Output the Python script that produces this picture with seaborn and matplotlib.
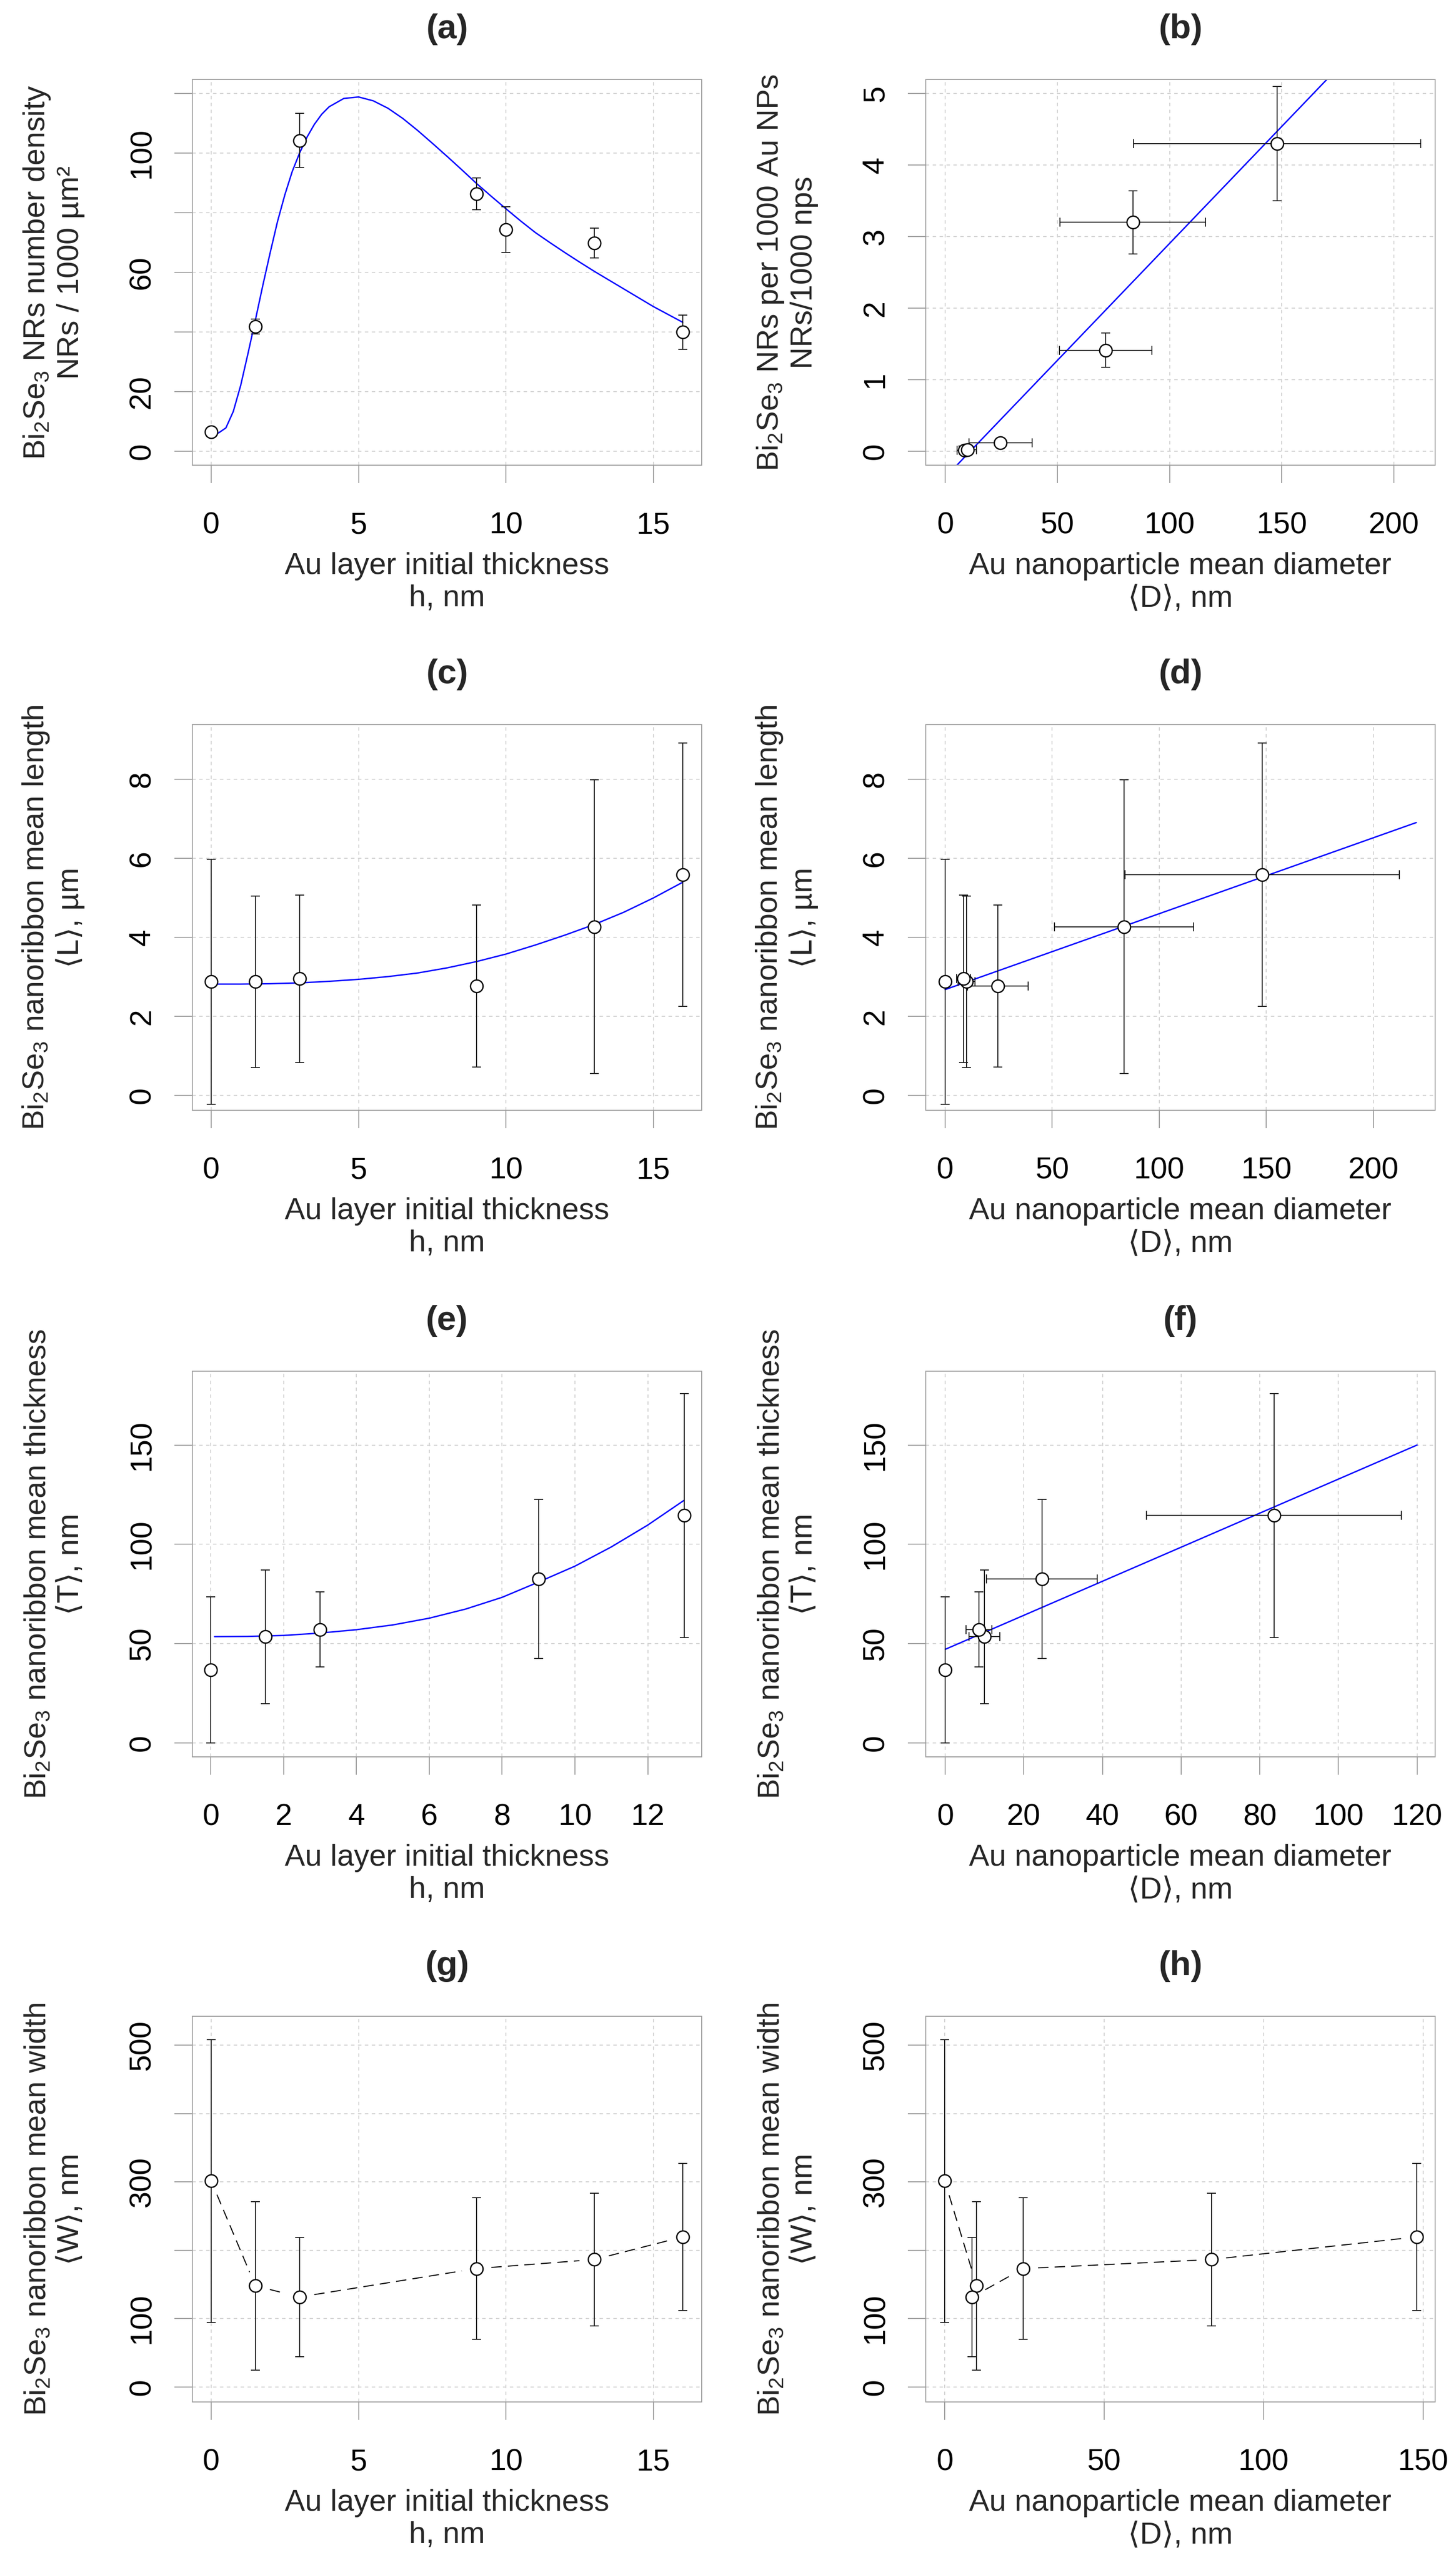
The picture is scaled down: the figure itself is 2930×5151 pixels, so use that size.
import matplotlib
matplotlib.use("Agg")
import matplotlib.pyplot as plt
import numpy as np
import seaborn as sns

# ---------------------------------------------------------------- data
# (a) number density vs h
h_dens = [0, 1.5, 3, 9, 10, 13, 16]
dens = [6.5, 41.8, 104.2, 86.3, 74.3, 69.8, 39.9]
dens_err = [1.0, 2.5, 9.1, 5.4, 7.7, 5.0, 5.7]
fit_dens_h = [0.1, 0.25, 0.5, 0.75, 1.0, 1.25, 1.5, 1.75, 2.0, 2.25, 2.5, 2.75,
              3.0, 3.25, 3.5, 3.75, 4.0, 4.5, 5.0, 5.5, 6.0, 6.5, 7.0, 7.5,
              8.0, 8.5, 9.0, 9.5, 10.0, 10.5, 11.0, 11.5, 12.0, 12.5, 13.0,
              14.0, 15.0, 16.0]
fit_dens = [5.9, 6.1, 7.8, 13.3, 22.0, 32.8, 44.0, 55.5, 66.5, 77.0, 86.0, 93.8,
            100.0, 105.3, 109.6, 113.0, 115.5, 118.3, 118.8, 117.5, 115.0, 111.6,
            107.6, 103.3, 98.9, 94.4, 89.8, 85.5, 81.3, 77.2, 73.3, 69.9, 66.6,
            63.4, 60.3, 54.4, 48.5, 43.2]

# (b) NRs per 1000 Au NPs vs D
D_nps = [8.6, 10.0, 24.6, 71.6, 83.6, 148.0]
D_nps_err = [3.3, 3.9, 14.1, 20.6, 32.4, 64.0]
nr_per_np = [0.01, 0.02, 0.12, 1.41, 3.20, 4.30]
nr_per_np_err = [0.02, 0.03, 0.06, 0.24, 0.44, 0.80]
fit_b_D = [5.2, 170.1]
fit_b_y = [-0.196, 5.196]

# (c),(d),(g),(h) geometry vs h / D
h_geo = [0, 1.5, 3, 9, 13, 16]
D_geo = [0, 10.0, 8.6, 24.6, 83.6, 148.0]
D_geo_err = [0, 3.9, 3.3, 14.1, 32.4, 64.0]
L_mean = [2.88, 2.88, 2.955, 2.77, 4.27, 5.59]
L_err = [3.10, 2.17, 2.12, 2.05, 3.72, 3.34]
fit_L_h = [0.1, 1, 2, 3, 4, 5, 6, 7, 8, 9, 10, 11, 12, 13, 14, 15, 16]
fit_L = [2.82, 2.82, 2.83, 2.85, 2.89, 2.94, 3.01, 3.10, 3.23, 3.39, 3.58,
         3.81, 4.06, 4.33, 4.64, 5.00, 5.40]
fit_L_D = [0, 220]
fit_L_lin = [2.68, 6.91]

W_mean = [301.4, 148.0, 131.8, 173.3, 186.5, 219.6]
W_err = [206.6, 123.3, 87.3, 103.8, 97.2, 107.4]

# (e),(f) thickness
h_T = [0, 1.5, 3, 9, 13]
D_T = [0, 10.0, 8.6, 24.6, 83.6]
D_T_err = [0, 3.9, 3.3, 14.1, 32.4]
T_mean = [36.8, 53.4, 57.1, 82.5, 114.5]
T_err = [36.8, 33.7, 18.9, 40.1, 61.5]
fit_T_h = [0.1, 1, 2, 3, 4, 5, 6, 7, 8, 9, 10, 11, 12, 13]
fit_T = [53.5, 53.6, 54.1, 55.3, 57.0, 59.4, 62.8, 67.4, 73.3, 81.0, 89.0,
         98.7, 109.7, 122.2]
fit_T_D = [0, 120]
fit_T_lin = [47.1, 150.0]

# ticks
xt_h16 = [0, 5, 10, 15]
xt_h13 = [0, 2, 4, 6, 8, 10, 12]
xt_D200 = [0, 50, 100, 150, 200]
xt_D120 = [0, 20, 40, 60, 80, 100, 120]
xt_D150 = [0, 50, 100, 150]
yt_dens = [0, 20, 40, 60, 80, 100, 120]
ytl_dens = ['0', '20', '', '60', '', '100', '']
yt_b = [0, 1, 2, 3, 4, 5]
yt_L = [0, 2, 4, 6, 8]
yt_T = [0, 50, 100, 150]
yt_W = [0, 100, 200, 300, 400, 500]
ytl_W = ['0', '100', '', '300', '', '500']

BI = r'Bi$_\mathregular{2}$Se$_\mathregular{3}$'
xlab_h = 'Au layer initial thickness\nh, nm'
xlab_D = 'Au nanoparticle mean diameter\n\u27e8D\u27e9, nm'

# ---------------------------------------------------------------- style
sns.set_theme(style="ticks")
plt.rcParams['font.family'] = ['Liberation Sans', 'DejaVu Sans']
plt.rcParams['mathtext.fontset'] = 'custom'
plt.rcParams['mathtext.rm'] = 'Liberation Sans'
plt.rcParams['lines.scale_dashes'] = False
plt.rcParams['axes.unicode_minus'] = False

FS = 44
BOX = '#9e9e9e'
GRID = '#d3d3d3'
EB = '#1a1a1a'

fig = plt.figure(figsize=(29.30, 51.51), dpi=100)


def make_ax(col, row):
    left = [387, 1863][col] / 2930
    top = [160, 1458, 2759, 4057][row]
    return fig.add_axes([left, 1 - (top + 776) / 5151, 1025 / 2930, 776 / 5151])


def style(ax, title, xlim, ylim, xt, yt, ytl, xlabel, ylabel):
    ax.set_xlim(xlim)
    ax.set_ylim(ylim)
    ax.set_xticks(xt, [str(v) for v in xt])
    ax.set_yticks(yt, ytl, rotation=90, va='center')
    ax.tick_params(axis='both', which='major', direction='out', length=26,
                   width=1.4, color=BOX, labelsize=FS, labelcolor='black',
                   bottom=True, left=True, top=False, right=False)
    ax.tick_params(axis='x', pad=41)
    ax.tick_params(axis='y', pad=26)
    ax.grid(True, color=GRID, linestyle=(0, (5, 5)), linewidth=1.4)
    ax.set_axisbelow(True)
    for s in ax.spines.values():
        s.set_visible(True)
        s.set_color(BOX)
        s.set_linewidth(1.4)
    ax.set_title(title, fontsize=50, fontweight='bold', pad=60)
    # 'baseline' of a multi-line text = baseline of its last line
    ax.set_xlabel(xlabel, fontsize=FS, va='baseline', linespacing=1.2)
    ax.xaxis.set_label_coords(0.5, -0.3666)
    ax.set_ylabel(ylabel, fontsize=FS, va='baseline', linespacing=1.2)
    ax.yaxis.set_label_coords(-0.2322, 0.5)


def errbars(ax, x, y, yerr, xerr=None):
    ax.errorbar(x, y, yerr=yerr, xerr=xerr, fmt='none', ecolor=EB,
                elinewidth=1.4, capsize=6.8, capthick=1.4, zorder=3)


def points(ax, x, y):
    sns.scatterplot(x=x, y=y, ax=ax, s=330, color='white', edgecolor='black',
                    linewidth=1.9, zorder=4, legend=False)


def curve(ax, x, y):
    sns.lineplot(x=x, y=y, ax=ax, color='blue', linewidth=2.0, sort=False,
                 estimator=None, zorder=2)


def gapped_dashes(ax, x, y, gap_px=30):
    pts = ax.transData.transform(np.column_stack([x, y]))
    inv = ax.transData.inverted()
    for p0, p1 in zip(pts[:-1], pts[1:]):
        v = p1 - p0
        L = np.hypot(v[0], v[1])
        if L <= 2 * gap_px:
            continue
        u = v / L
        d = inv.transform(np.vstack([p0 + u * gap_px, p1 - u * gap_px]))
        ax.plot(d[:, 0], d[:, 1], color='black', linewidth=1.5,
                dashes=(15, 9), zorder=2)


# (a)
ax = make_ax(0, 0)
style(ax, '(a)', (-0.64, 16.64), (-4.71, 124.65), xt_h16, yt_dens, ytl_dens,
      xlab_h, BI + ' NRs number density\nNRs / 1000 \u00b5m\u00b2')
curve(ax, fit_dens_h, fit_dens)
errbars(ax, h_dens, dens, dens_err)
points(ax, h_dens, dens)

# (b)
ax = make_ax(1, 0)
style(ax, '(b)', (-8.67, 218.4), (-0.196, 5.196), xt_D200, yt_b,
      [str(v) for v in yt_b], xlab_D,
      BI + ' NRs per 1000 Au NPs\nNRs/1000 nps')
ax.axline((fit_b_D[0], fit_b_y[0]), (fit_b_D[1], fit_b_y[1]), color='blue',
          linewidth=2.0, zorder=2)
errbars(ax, D_nps, nr_per_np, nr_per_np_err, D_nps_err)
points(ax, D_nps, nr_per_np)

# (c)
ax = make_ax(0, 1)
style(ax, '(c)', (-0.64, 16.64), (-0.375, 9.39), xt_h16, yt_L,
      [str(v) for v in yt_L], xlab_h,
      BI + ' nanoribbon mean length\n\u27e8L\u27e9, \u00b5m')
curve(ax, fit_L_h, fit_L)
errbars(ax, h_geo, L_mean, L_err)
points(ax, h_geo, L_mean)

# (d)
ax = make_ax(1, 1)
style(ax, '(d)', (-9.0, 228.8), (-0.375, 9.39), xt_D200, yt_L,
      [str(v) for v in yt_L], xlab_D,
      BI + ' nanoribbon mean length\n\u27e8L\u27e9, \u00b5m')
curve(ax, fit_L_D, fit_L_lin)
errbars(ax, D_geo, L_mean, L_err, D_geo_err)
points(ax, D_geo, L_mean)

# (e)
ax = make_ax(0, 2)
style(ax, '(e)', (-0.51, 13.48), (-7.06, 187.2), xt_h13, yt_T,
      [str(v) for v in yt_T], xlab_h,
      BI + ' nanoribbon mean thickness\n\u27e8T\u27e9, nm')
curve(ax, fit_T_h, fit_T)
errbars(ax, h_T, T_mean, T_err)
points(ax, h_T, T_mean)

# (f)
ax = make_ax(1, 2)
style(ax, '(f)', (-4.95, 124.6), (-7.06, 187.2), xt_D120, yt_T,
      [str(v) for v in yt_T], xlab_D,
      BI + ' nanoribbon mean thickness\n\u27e8T\u27e9, nm')
curve(ax, fit_T_D, fit_T_lin)
errbars(ax, D_T, T_mean, T_err, D_T_err)
points(ax, D_T, T_mean)

# (g)
ax = make_ax(0, 3)
style(ax, '(g)', (-0.64, 16.64), (-21.7, 542.1), xt_h16, yt_W, ytl_W, xlab_h,
      BI + ' nanoribbon mean width\n\u27e8W\u27e9, nm')
gapped_dashes(ax, h_geo, W_mean)
errbars(ax, h_geo, W_mean, W_err)
points(ax, h_geo, W_mean)

# (h)
ax = make_ax(1, 3)
style(ax, '(h)', (-5.96, 153.8), (-21.7, 542.1), xt_D150, yt_W, ytl_W, xlab_D,
      BI + ' nanoribbon mean width\n\u27e8W\u27e9, nm')
gapped_dashes(ax, D_geo, W_mean)
errbars(ax, D_geo, W_mean, W_err)
points(ax, D_geo, W_mean)

fig.savefig('out.png', dpi=100, facecolor='white')
